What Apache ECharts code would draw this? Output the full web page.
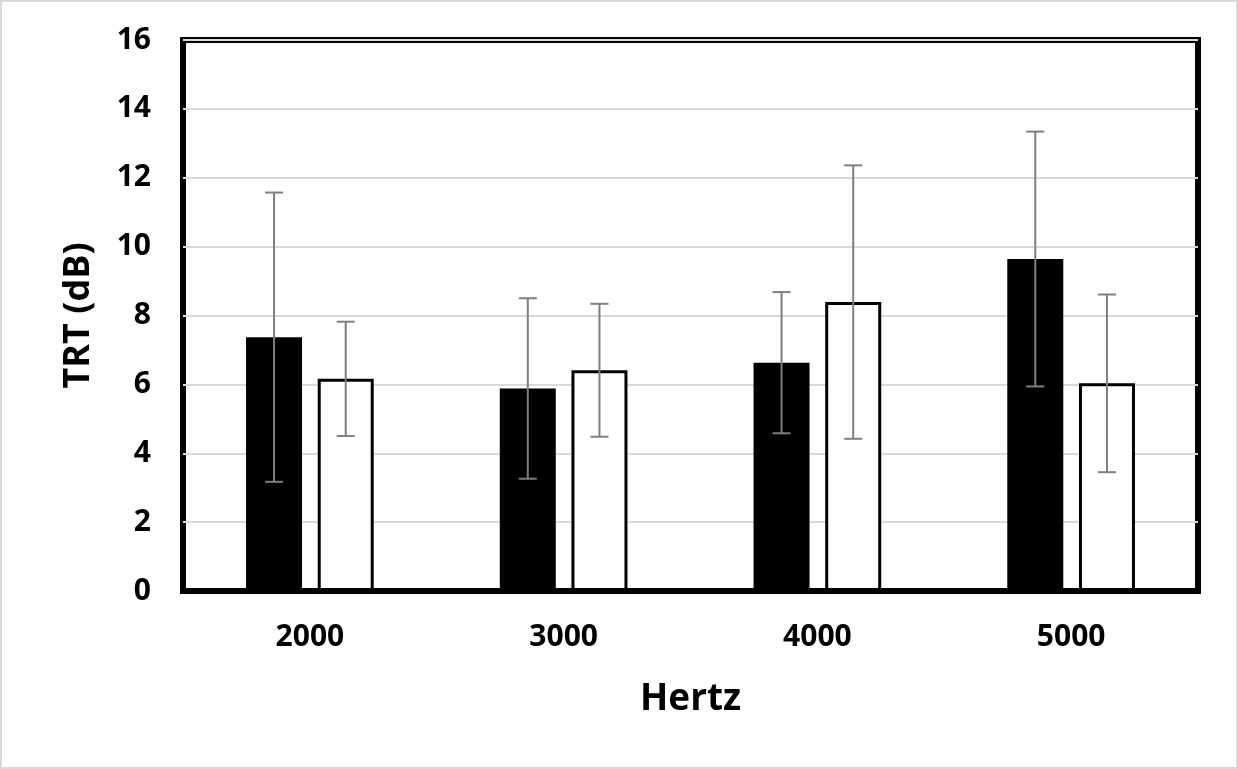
<!DOCTYPE html>
<html>
<head>
<meta charset="utf-8">
<script src="https://cdn.jsdelivr.net/npm/echarts@6/dist/echarts.min.js"></script>
<style>
  html, body { margin: 0; padding: 0; background: #fff; }
  #main { width: 1238px; height: 769px; }
</style>
</head>
<body>
<div id="main"></div>
<script>
// данные
const categories = ['2000', '3000', '4000', '5000'];
const meanBlack = [7.37, 5.88, 6.63, 9.64];
const sdBlack = [4.2, 2.62, 2.05, 3.7];
const meanWhite = [6.16, 6.41, 8.39, 6.03];
const sdWhite = [1.66, 1.93, 3.97, 2.58];
const yTicks = [0, 2, 4, 6, 8, 10, 12, 14, 16];

const barWidth = 56;
const barGapPct = 28;
const shift = (barWidth + barWidth * barGapPct / 100) / 2;

function errData(mean, sd) {
    return mean.map((m, i) => [i, m - sd[i], m + sd[i]]);
}

function errRender(dx) {
    return function (params, api) {
        let lo = api.coord([api.value(0), api.value(1)]);
        let hi = api.coord([api.value(0), api.value(2)]);
        let x = lo[0] + dx;
        let cap = 9;
        let style = { stroke: '#7f7f7f', lineWidth: 2 };
        return {
            type: 'group',
            children: [
                { type: 'line', shape: { x1: x, y1: hi[1], x2: x, y2: lo[1] }, style: style },
                { type: 'line', shape: { x1: x - cap, y1: hi[1], x2: x + cap, y2: hi[1] }, style: style },
                { type: 'line', shape: { x1: x - cap, y1: lo[1], x2: x + cap, y2: lo[1] }, style: style }
            ]
        };
    };
}

let chart = echarts.init(document.getElementById('main'));
const font = "'Open Sans', 'Liberation Sans', sans-serif";

chart.setOption({
    animation: false,
    textStyle: { fontFamily: font },
    graphic: [{
        type: 'rect',
        shape: { x: 1, y: 1, width: 1236, height: 767 },
        style: { fill: 'none', stroke: '#d9d9d9', lineWidth: 2 },
        silent: true
    }],
    grid: {
        left: 183, right: 40, top: 40, bottom: 178,
        show: true, borderColor: '#000', borderWidth: 6
    },
    xAxis: {
        type: 'category',
        data: categories,
        name: 'Hertz',
        nameLocation: 'middle',
        nameGap: 90,
        nameTextStyle: { fontSize: 37, fontWeight: 'bold', color: '#000', fontFamily: font },
        axisLine: { lineStyle: { color: '#000', width: 3 } },
        axisTick: { show: false },
        axisLabel: { fontSize: 30, fontWeight: 'bold', color: '#000', margin: 31, fontFamily: font }
    },
    yAxis: {
        type: 'value',
        min: 0, max: 16, interval: 2,
        name: 'TRT (dB)',
        nameLocation: 'middle',
        nameGap: 86,
        nameTextStyle: { fontSize: 36, fontWeight: 'bold', color: '#000', fontFamily: font },
        axisLine: { show: false },
        axisTick: { show: false },
        splitLine: { lineStyle: { color: '#d9d9d9', width: 2 } },
        axisLabel: {
            fontSize: 30, fontWeight: 'bold', color: '#000', margin: 32, fontFamily: font,
            formatter: v => yTicks.includes(v) ? String(v) : ''
        }
    },
    series: [
        {
            name: 'black',
            type: 'bar',
            barWidth: barWidth,
            barGap: barGapPct + '%',
            itemStyle: { color: '#000' },
            data: meanBlack
        },
        {
            name: 'white',
            type: 'bar',
            barWidth: barWidth,
            itemStyle: { color: '#fff', borderColor: '#000', borderWidth: 3 },
            data: meanWhite
        },
        {
            type: 'custom',
            renderItem: errRender(-shift),
            encode: { x: 0, y: [1, 2] },
            data: errData(meanBlack, sdBlack),
            z: 5
        },
        {
            type: 'custom',
            renderItem: errRender(shift),
            encode: { x: 0, y: [1, 2] },
            data: errData(meanWhite, sdWhite),
            z: 5
        }
    ]
});
</script>
</body>
</html>
